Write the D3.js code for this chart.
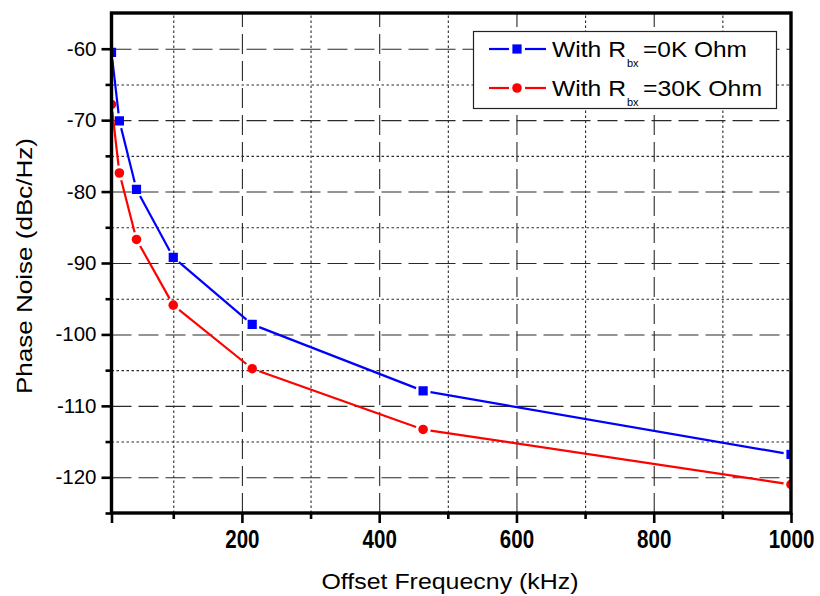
<!DOCTYPE html>
<html>
<head>
<meta charset="utf-8">
<script src="https://cdn.jsdelivr.net/npm/d3@7"></script>
<style>
  html, body { margin: 0; padding: 0; background: #fff; }
  svg { display: block; }
</style>
</head>
<body>
<svg id="chart" width="820" height="596"></svg>
<script>
// ---- data ----
const freqKHz   = [10, 21.5, 46.4, 100, 215, 464, 1000];
const noise0K   = [-60.5, -70.1, -79.7, -89.2, -98.6, -107.9, -116.8];
const noise30K  = [-67.8, -77.4, -86.7, -95.9, -104.8, -113.3, -121.0];
const seriesNames = ["=0K Ohm", "=30K Ohm"];
const xMajorTicks = [200, 400, 600, 800, 1000];
const xMinorTicks = [100, 300, 500, 700, 900];
const yMajorTicks = [-60, -70, -80, -90, -100, -110, -120];
const yMinorTicks = [-65, -75, -85, -95, -105, -115, -125];
const xTitle = "Offset Frequecny (kHz)";
const yTitle = "Phase Noise (dBc/Hz)";

// ---- layout ----
const L = 111.5, R = 791, T = 13, B = 513;
const svg = d3.select("#chart");
const x = d3.scaleLinear().domain([10, 1000]).range([L, R]);
const y = d3.scaleLinear().domain([-125, -55]).range([B, T]);
const FONT = "'Liberation Sans', Arial, Helvetica, sans-serif";

svg.append("defs").append("clipPath").attr("id", "plotClip")
  .append("rect").attr("x", L).attr("y", T).attr("width", R - L).attr("height", B - T);

// ---- grid ----
const grid = svg.append("g");
function hGrid(vals, dash) {
  const g = grid.append("g").attr("transform", `translate(${L},0)`)
    .call(d3.axisLeft(y).tickValues(vals).tickSize(-(R - L)).tickFormat(""));
  g.select(".domain").remove();
  g.selectAll("line").attr("stroke", "#2a2a2a").attr("stroke-width", 1.1).attr("stroke-dasharray", dash);
}
function vGrid(vals, dash) {
  const g = grid.append("g").attr("transform", `translate(0,${B})`)
    .call(d3.axisBottom(x).tickValues(vals).tickSize(-(B - T)).tickFormat(""));
  g.select(".domain").remove();
  g.selectAll("line").attr("stroke", "#2a2a2a").attr("stroke-width", 1.1).attr("stroke-dasharray", dash);
}
hGrid(yMajorTicks, "20,7");
hGrid(yMinorTicks.filter(v => v > -125), "2.5,2.5");
vGrid(xMajorTicks.filter(v => v < 1000), "20,7");
vGrid(xMinorTicks, "2.5,2.5");

// ---- series ----
const plot = svg.append("g").attr("clip-path", "url(#plotClip)");
const GAP = 7.5;
function drawSeries(vals, color, marker) {
  const pts = freqKHz.map((f, i) => [x(f), y(vals[i])]);
  const line = d3.line();
  for (let i = 0; i < pts.length - 1; i++) {
    const [x0, y0] = pts[i], [x1, y1] = pts[i + 1];
    const dx = x1 - x0, dy = y1 - y0, d = Math.hypot(dx, dy);
    if (d <= 2 * GAP) continue;
    const ux = dx / d, uy = dy / d;
    plot.append("path")
      .attr("d", line([[x0 + ux * GAP, y0 + uy * GAP], [x1 - ux * GAP, y1 - uy * GAP]]))
      .attr("stroke", color).attr("stroke-width", 2.2).attr("fill", "none");
  }
  const sym = marker === "square" ? d3.symbolSquare : d3.symbolCircle;
  const size = marker === "square" ? 85 : 72;
  plot.selectAll(null).data(pts).enter().append("path")
    .attr("transform", d => `translate(${d[0]},${d[1]})`)
    .attr("d", d3.symbol().type(sym).size(size))
    .attr("fill", color);
}
drawSeries(noise0K, "#0000ff", "square");
drawSeries(noise30K, "#ff0000", "circle");

// ---- axes ----
const axes = svg.append("g");
function styleAxis(g) {
  g.select(".domain").remove();
  g.selectAll(".tick line").attr("stroke", "#000").attr("stroke-width", 2.6);
}
// left major
const yAx = axes.append("g").attr("transform", `translate(${L},0)`)
  .call(d3.axisLeft(y).tickValues(yMajorTicks).tickSize(10).tickPadding(6).tickFormat(d => d));
styleAxis(yAx);
yAx.selectAll("text").attr("font-family", FONT).attr("font-size", 20.5).attr("fill", "#000")
  .attr("x", -15);
// left minor
styleAxis(axes.append("g").attr("transform", `translate(${L},0)`)
  .call(d3.axisLeft(y).tickValues(yMinorTicks).tickSize(6).tickFormat("")));
// bottom major
const xAx = axes.append("g").attr("transform", `translate(0,${B})`)
  .call(d3.axisBottom(x).tickValues([10].concat(xMajorTicks)).tickSize(10).tickFormat(d => d === 10 ? "" : d));
styleAxis(xAx);
xAx.selectAll("text").attr("font-family", FONT).attr("font-size", 26).attr("font-weight", "bold")
  .attr("fill", "#000").attr("y", 17).attr("dy", "0.71em")
  .attr("transform", "scale(0.79,1)");
// bottom minor
styleAxis(axes.append("g").attr("transform", `translate(0,${B})`)
  .call(d3.axisBottom(x).tickValues(xMinorTicks).tickSize(6).tickFormat("")));

// frame
axes.append("rect").attr("x", L).attr("y", T).attr("width", R - L).attr("height", B - T)
  .attr("fill", "none").attr("stroke", "#000").attr("stroke-width", 3.4);

// ---- titles ----
svg.append("text").attr("x", 450).attr("y", 589).attr("text-anchor", "middle")
  .attr("font-family", FONT).attr("font-size", 22).attr("fill", "#000")
  .attr("textLength", 257).attr("lengthAdjust", "spacingAndGlyphs").text(xTitle);
svg.append("text").attr("transform", "translate(32,266) rotate(-90)").attr("text-anchor", "middle")
  .attr("font-family", FONT).attr("font-size", 22).attr("fill", "#000")
  .attr("textLength", 256).attr("lengthAdjust", "spacingAndGlyphs").text(yTitle);

// ---- legend ----
const lg = svg.append("g");
lg.append("rect").attr("x", 473.5).attr("y", 31.5).attr("width", 303).attr("height", 77)
  .attr("fill", "#fff").attr("stroke", "#222").attr("stroke-width", 1.2);
const legendRows = [
  { color: "#0000ff", marker: "square", name: seriesNames[0], yy: 49, w: 104 },
  { color: "#ff0000", marker: "circle", name: seriesNames[1], yy: 88, w: 119 }
];
legendRows.forEach(r => {
  lg.append("line").attr("x1", 489).attr("x2", 509).attr("y1", r.yy).attr("y2", r.yy)
    .attr("stroke", r.color).attr("stroke-width", 2.2);
  lg.append("line").attr("x1", 525).attr("x2", 546).attr("y1", r.yy).attr("y2", r.yy)
    .attr("stroke", r.color).attr("stroke-width", 2.2);
  lg.append("path").attr("transform", `translate(517,${r.yy})`)
    .attr("d", d3.symbol().type(r.marker === "square" ? d3.symbolSquare : d3.symbolCircle)
      .size(r.marker === "square" ? 85 : 72))
    .attr("fill", r.color);
  lg.append("text").attr("x", 552).attr("y", r.yy + 8).attr("font-family", FONT).attr("font-size", 21.5)
    .attr("fill", "#000").attr("textLength", 74).attr("lengthAdjust", "spacingAndGlyphs").text("With R");
  lg.append("text").attr("x", 627).attr("y", r.yy + 18).attr("font-family", FONT).attr("font-size", 11)
    .attr("fill", "#000").text("bx");
  lg.append("text").attr("x", 643).attr("y", r.yy + 8).attr("font-family", FONT).attr("font-size", 21.5)
    .attr("fill", "#000").attr("textLength", r.w).attr("lengthAdjust", "spacingAndGlyphs").text(r.name);
});
</script>
</body>
</html>
